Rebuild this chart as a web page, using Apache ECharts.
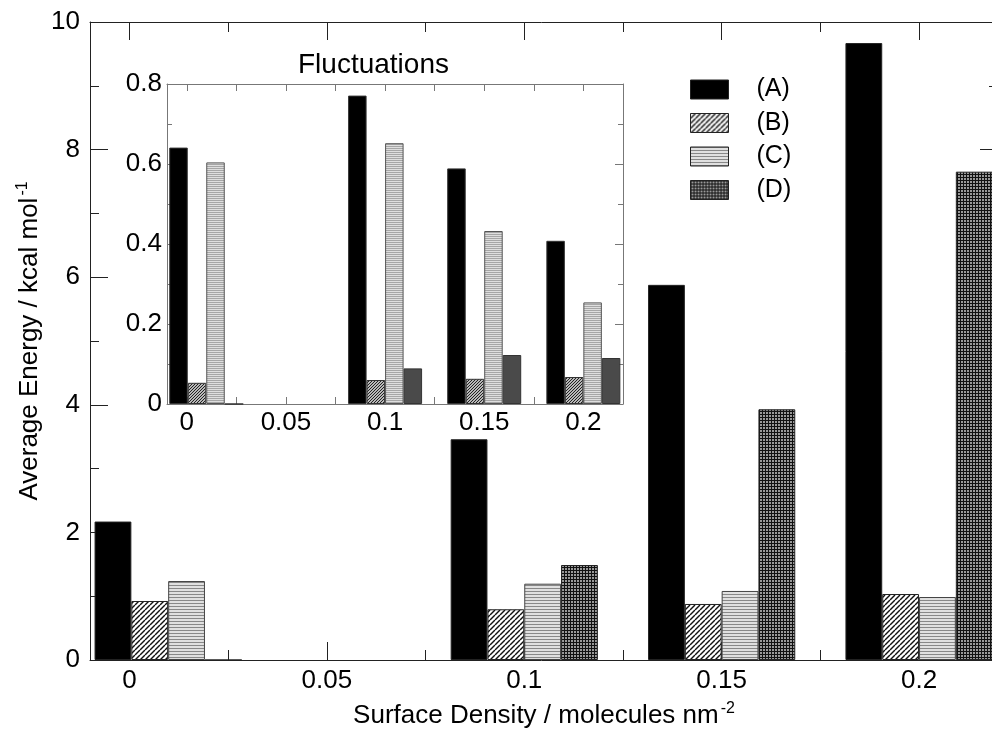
<!DOCTYPE html>
<html>
<head>
<meta charset="utf-8">
<script src="https://cdn.jsdelivr.net/npm/echarts@6/dist/echarts.min.js"></script>
<style>
  html, body { margin: 0; padding: 0; background: #fff; }
  #main { width: 992px; height: 729px; }
</style>
</head>
<body>
<div id="main"></div>
<script>
// group positions (surface density, molecules nm^-2) as placed in the figure
const densities = [0.0098, 0.1, 0.15, 0.2];
const seriesNames = ["(A)", "(B)", "(C)", "(D)"];

// average energy, kcal/mol
const avgA = [2.17, 3.46, 5.88, 9.67];
const avgB = [0.925, 0.795, 0.878, 1.034];
const avgC = [1.238, 1.196, 1.082, 0.987];
const avgD = [0, 1.489, 3.93, 7.654];

// fluctuations (inset)
const flucA = [0.641, 0.771, 0.589, 0.408];
const flucB = [0.053, 0.06, 0.063, 0.0675];
const flucC = [0.604, 0.652, 0.4325, 0.254];
const flucD = [0, 0.089, 0.1225, 0.115];

const mainYTicks = [0, 10, 2];
const insetYTicks = [0, 0.8, 0.2];
const xLabelStep = 0.05;

const FONT = "Liberation Sans";

function tile(w, h, draw) {
  const c = document.createElement("canvas");
  c.width = w; c.height = h;
  draw(c.getContext("2d"));
  return { image: c, repeat: "repeat" };
}

// hatch fills
const fillB = tile(5, 5, function (g) {
  g.fillStyle = "#fff"; g.fillRect(0, 0, 5, 5);
  g.strokeStyle = "#111"; g.lineWidth = 1.4;
  for (let k = -5; k <= 5; k += 5) {
    g.beginPath(); g.moveTo(k, 5); g.lineTo(k + 5, 0); g.stroke();
  }
});
const fillC = tile(4, 3, function (g) {
  g.fillStyle = "#e0e0e0"; g.fillRect(0, 0, 4, 3);
  g.fillStyle = "#888"; g.fillRect(0, 0, 4, 1);
});
const fillD = tile(3, 3, function (g) {
  g.fillStyle = "#999"; g.fillRect(0, 0, 3, 3);
  g.fillStyle = "#111"; g.fillRect(0, 0, 3, 1); g.fillRect(0, 0, 1, 3);
});
const fillBi = tile(3, 3, function (g) {
  g.fillStyle = "#b8b8b8"; g.fillRect(0, 0, 3, 3);
  g.strokeStyle = "#222"; g.lineWidth = 1;
  for (let k = -3; k <= 3; k += 3) {
    g.beginPath(); g.moveTo(k, 3); g.lineTo(k + 3, 0); g.stroke();
  }
});
const fillCi = tile(2, 2, function (g) {
  g.fillStyle = "#dedede"; g.fillRect(0, 0, 2, 2);
  g.fillStyle = "#a6a6a6"; g.fillRect(0, 0, 2, 1);
});

function pairs(ys) {
  return densities.map(function (x, i) { return [x, ys[i]]; });
}

function xLabel(v) {
  const k = Math.round(v / xLabelStep);
  if (Math.abs(v - k * xLabelStep) > 1e-6 || k < 0 || k > 4) return "";
  return String(+(k * xLabelStep).toFixed(2));
}

function xAxisDef(grid, pos, step, tickLen, opts) {
  return Object.assign({
    type: "value", gridIndex: grid, position: pos,
    min: -0.01, max: 0.22, minInterval: step, maxInterval: step, splitNumber: 10,
    axisLine: { show: false, onZero: false },
    axisTick: { show: true, inside: true, length: tickLen, lineStyle: { color: "#222", width: 1 } },
    axisLabel: { show: false },
    splitLine: { show: false }
  }, opts || {});
}

function yAxisDef(grid, pos, ticks, len, minorLen, color, opts) {
  return Object.assign({
    type: "value", gridIndex: grid, position: pos,
    min: ticks[0], max: ticks[1], interval: ticks[2],
    axisLine: { show: true, onZero: false, lineStyle: { color: color, width: 1 } },
    axisTick: { show: true, inside: true, length: len, lineStyle: { color: color, width: 1 } },
    minorTick: { show: true, splitNumber: 2, length: minorLen, lineStyle: { color: color, width: 1 } },
    axisLabel: { show: false },
    splitLine: { show: false }
  }, opts || {});
}

function bar(name, ys, fill, border, xi, yi, width, z) {
  return {
    name: name, type: "bar", xAxisIndex: xi, yAxisIndex: yi,
    data: pairs(ys), barWidth: width, barGap: "0%", z: z,
    itemStyle: { color: fill, borderColor: border, borderWidth: 1 }
  };
}

const supStyle = { fontFamily: FONT, fontSize: 16, verticalAlign: "top", padding: [0, 0, 14, 2] };

const chart = echarts.init(document.getElementById("main"), null, { renderer: "canvas" });

chart.setOption({
  animation: false,
  backgroundColor: "#fff",
  textStyle: { fontFamily: FONT },
  title: {
    text: "Fluctuations", left: 298, top: 51, padding: 0,
    textStyle: { fontFamily: FONT, fontSize: 28, fontWeight: "normal", color: "#000" }
  },
  legend: {
    data: seriesNames, orient: "vertical", left: 690, top: 77, padding: 0,
    itemWidth: 38, itemHeight: 19, itemGap: 8.5, icon: "rect",
    itemStyle: { borderColor: "#222", borderWidth: 1 },
    textStyle: { fontFamily: FONT, fontSize: 25, color: "#000", padding: [0, 0, 0, 23] }
  },
  grid: [
    { left: 90, right: -6, top: 22, bottom: 69, show: false, containLabel: false, outerBoundsMode: "none" },
    { left: 167, right: 369, top: 84, bottom: 325, show: true, backgroundColor: "#fff", borderWidth: 0, z: 5,
      containLabel: false, outerBoundsMode: "none" }
  ],
  xAxis: [
    xAxisDef(0, "bottom", 0.05, 18, {
      axisLine: { show: true, onZero: false, lineStyle: { color: "#222", width: 1 } },
      axisLabel: { show: true, formatter: xLabel, fontSize: 26, color: "#000", margin: 8, fontFamily: FONT },
      name: "Surface Density / molecules nm{sup|-2}",
      nameLocation: "middle", nameGap: 41,
      nameTextStyle: { fontFamily: FONT, fontSize: 26, color: "#000", rich: { sup: supStyle } }
    }),
    xAxisDef(0, "bottom", 0.025, 10),
    xAxisDef(0, "top", 0.05, 18, {
      axisLine: { show: true, onZero: false, lineStyle: { color: "#222", width: 1 } }
    }),
    xAxisDef(0, "top", 0.025, 10),
    xAxisDef(1, "bottom", 0.025, 7, {
      z: 6,
      axisLine: { show: true, onZero: false, lineStyle: { color: "#777", width: 1 } },
      axisTick: { show: true, inside: true, length: 7, lineStyle: { color: "#777", width: 1 } },
      axisLabel: { show: true, formatter: xLabel, fontSize: 26, color: "#000", margin: 6, fontFamily: FONT }
    }),
    xAxisDef(1, "top", 0.025, 7, {
      z: 6,
      axisLine: { show: true, onZero: false, lineStyle: { color: "#777", width: 1 } },
      axisTick: { show: true, inside: true, length: 7, lineStyle: { color: "#777", width: 1 } }
    })
  ],
  yAxis: [
    yAxisDef(0, "left", mainYTicks, 18, 9, "#222", {
      axisLabel: { show: true, fontSize: 26, color: "#000", margin: 10, fontFamily: FONT },
      name: "Average Energy / kcal mol{sup|-1}",
      nameLocation: "middle", nameGap: 45, nameRotate: 90, nameMoveOverlap: false,
      nameTextStyle: { fontFamily: FONT, fontSize: 26, color: "#000", rich: { sup: supStyle } }
    }),
    yAxisDef(0, "right", mainYTicks, 18, 9, "#222"),
    yAxisDef(1, "left", insetYTicks, 8, 5, "#777", {
      z: 6,
      axisLabel: { show: true, fontSize: 26, color: "#000", margin: 5, fontFamily: FONT }
    }),
    yAxisDef(1, "right", insetYTicks, 8, 5, "#777", { z: 6 })
  ],
  series: [
    bar(seriesNames[0], avgA, "#000", "#222", 0, 0, 36.8, 2),
    bar(seriesNames[1], avgB, fillB, "#222", 0, 0, 36.8, 2),
    bar(seriesNames[2], avgC, fillC, "#444", 0, 0, 36.8, 2),
    bar(seriesNames[3], avgD, fillD, "#222", 0, 0, 36.8, 2),
    bar("inset A", flucA, "#000", "#333", 4, 2, 18.5, 7),
    bar("inset B", flucB, fillBi, "#333", 4, 2, 18.5, 7),
    bar("inset C", flucC, fillCi, "#555", 4, 2, 18.5, 7),
    bar("inset D", flucD, "#4a4a4a", "#333", 4, 2, 18.5, 7)
  ]
});
</script>
</body>
</html>
